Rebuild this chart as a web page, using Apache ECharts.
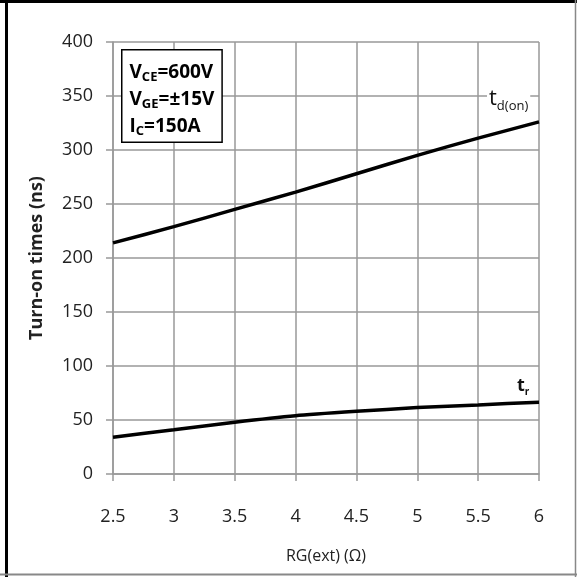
<!DOCTYPE html>
<html>
<head>
<meta charset="utf-8">
<script src="https://cdn.jsdelivr.net/npm/echarts@6/dist/echarts.min.js"></script>
<style>
  html, body { margin: 0; padding: 0; background: #fff; }
  #chart { width: 577px; height: 577px; }
</style>
</head>
<body>
<div id="chart"></div>
<script>
// RG(ext) in ohm
const rgValues = [2.5, 3, 3.5, 4, 4.5, 5, 5.5, 6]
// turn-on delay time td(on), ns
const tdOn = [214, 229, 245, 261, 278, 295, 311, 326]
// rise time tr, ns
const tr = [34, 41, 48, 54, 58, 61.5, 64, 66.5]

const conditions = ["VCE=600V", "VGE=±15V", "IC=150A"]

const font = "'Open Sans', 'Liberation Sans', sans-serif"
const gridColor = "#999"

let chart = echarts.init(document.getElementById("chart"))

let option = {
    backgroundColor: "#fff",
    animation: false,
    grid: {
        left: 113,
        right: 38,
        top: 42,
        bottom: 103
    },
    xAxis: {
        type: "value",
        min: 2.5,
        max: 6,
        interval: 0.5,
        name: "RG(ext) (Ω)",
        nameLocation: "middle",
        nameGap: 74,
        nameTextStyle: { fontFamily: font, fontSize: 16, color: "#222" },
        axisLine: { show: true, lineStyle: { color: gridColor, width: 1.5 } },
        axisTick: { show: true, length: 7, lineStyle: { color: gridColor, width: 1.5 } },
        axisLabel: { fontFamily: font, fontSize: 18, color: "#222", margin: 34 },
        splitLine: { show: true, lineStyle: { color: gridColor, width: 1.5 } }
    },
    yAxis: {
        type: "value",
        min: 0,
        max: 400,
        interval: 50,
        name: "Turn-on times (ns)",
        nameLocation: "middle",
        nameGap: 67,
        nameTextStyle: { fontFamily: font, fontSize: 18, fontWeight: "bold", color: "#222" },
        axisLine: { show: true, lineStyle: { color: gridColor, width: 1.5 } },
        axisTick: { show: true, length: 7, lineStyle: { color: gridColor, width: 1.5 } },
        axisLabel: { fontFamily: font, fontSize: 18, color: "#222", margin: 20 },
        splitLine: { show: true, lineStyle: { color: gridColor, width: 1.5 } }
    },
    series: [
        {
            name: "td(on)",
            type: "line",
            data: rgValues.map((x, i) => [x, tdOn[i]]),
            showSymbol: false,
            smooth: 0.2,
            lineStyle: { color: "#000", width: 3.5 },
            endLabel: {
                show: true,
                offset: [-60, -22],
                backgroundColor: "#fff",
                padding: [0, 2, 2, 2],
                formatter: "{t|t}{s|d(on)}",
                rich: {
                    t: { fontFamily: font, fontSize: 22, color: "#111", verticalAlign: "bottom" },
                    s: { fontFamily: font, fontSize: 13, color: "#111", verticalAlign: "bottom", padding: [0, 0, -3, 0] }
                }
            }
        },
        {
            name: "tr",
            type: "line",
            data: rgValues.map((x, i) => [x, tr[i]]),
            showSymbol: false,
            smooth: 0.2,
            lineStyle: { color: "#000", width: 3.5 },
            endLabel: {
                show: true,
                offset: [-30, -16],
                formatter: "{t|t}{s|r}",
                rich: {
                    t: { fontFamily: font, fontSize: 18, fontWeight: "bold", color: "#111", verticalAlign: "bottom" },
                    s: { fontFamily: font, fontSize: 10, fontWeight: "bold", color: "#111", verticalAlign: "bottom", padding: [0, 0, -2, 0] }
                }
            }
        }
    ],
    graphic: [
        // outer frame
        { type: "line", shape: { x1: 6.5, y1: 0, x2: 6.5, y2: 577 }, style: { stroke: "#000", lineWidth: 3 } },
        { type: "line", shape: { x1: 0, y1: 1.5, x2: 577, y2: 1.5 }, style: { stroke: "#000", lineWidth: 3 } },
        { type: "line", shape: { x1: 0, y1: 574.5, x2: 577, y2: 574.5 }, style: { stroke: "#888", lineWidth: 2 } },
        { type: "line", shape: { x1: 575.5, y1: 0, x2: 575.5, y2: 577 }, style: { stroke: "#888", lineWidth: 1.5 } },
        // test conditions box
        {
            type: "text",
            left: 121,
            top: 49,
            z: 100,
            style: {
                text: conditions.map(c => {
                    let m = c.match(/^(V|I)(CE|GE|C)(=.*)$/)
                    return "{b|" + m[1] + "}{sub|" + m[2] + "}{b|" + m[3] + "}"
                }).join("\n"),
                backgroundColor: "#fff",
                borderColor: "#000",
                borderWidth: 1.5,
                padding: [5, 7, 5, 7],
                rich: {
                    b: { fontFamily: font, fontSize: 19, fontWeight: "bold", color: "#111", lineHeight: 27, verticalAlign: "bottom" },
                    sub: { fontFamily: font, fontSize: 13, fontWeight: "bold", color: "#111", lineHeight: 27, verticalAlign: "bottom", padding: [0, 0, -1, 0] }
                }
            }
        }
    ]
}

chart.setOption(option)
</script>
</body>
</html>
